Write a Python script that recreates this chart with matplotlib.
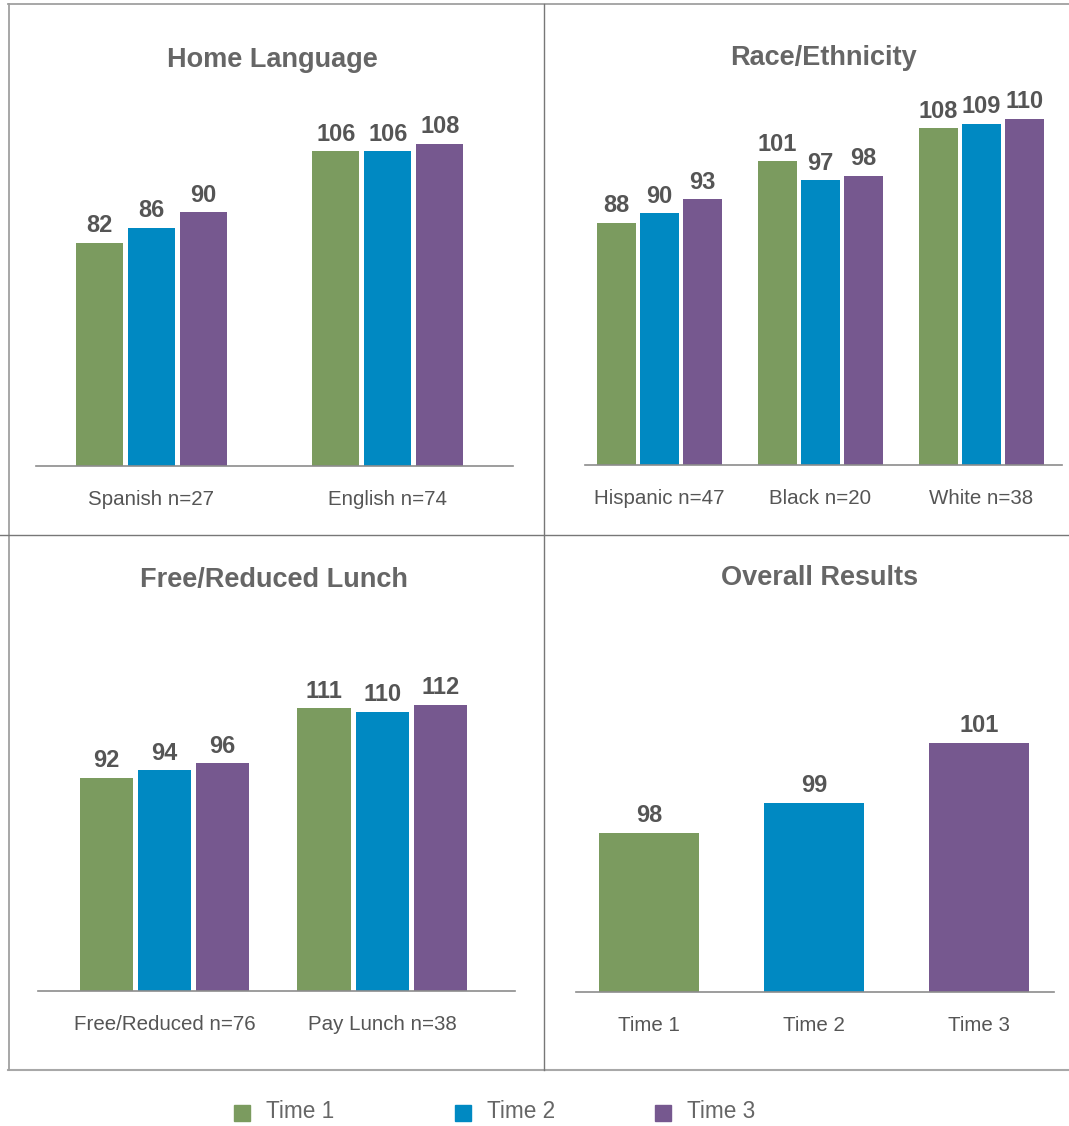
import matplotlib
matplotlib.use("Agg")
import matplotlib.pyplot as plt
from matplotlib.lines import Line2D
from matplotlib.patches import Rectangle

plt.rcParams['font.family'] = ['Liberation Sans', 'DejaVu Sans']

series_names = ["Time 1", "Time 2", "Time 3"]
colors = ["#7b9b5f", "#0089c2", "#76588f"]

home_cats = ["Spanish n=27", "English n=74"]
home_vals = [[82, 106], [86, 106], [90, 108]]

race_cats = ["Hispanic n=47", "Black n=20", "White n=38"]
race_vals = [[88, 101, 108], [90, 97, 109], [93, 98, 110]]

lunch_cats = ["Free/Reduced n=76", "Pay Lunch n=38"]
lunch_vals = [[92, 111], [94, 110], [96, 112]]

overall_cats = ["Time 1", "Time 2", "Time 3"]
overall_vals = [98, 99, 101]

W, H = 1069, 1126
fig = plt.figure(figsize=(W / 100, H / 100), dpi=100)

def ax_at(x0, y0, x1, y1):
    return fig.add_axes([x0 / W, 1 - y1 / H, (x1 - x0) / W, (y1 - y0) / H])

TXT = "#555555"
TITLE = "#666666"
VAL_FS = 17
TICK_FS = 14.8
TITLE_FS = 19.5

def style(ax, title, title_y, panel_x):
    for s in ["top", "right", "left"]:
        ax.spines[s].set_visible(False)
    ax.spines["bottom"].set_color("#8c8c8c")
    ax.spines["bottom"].set_linewidth(1.2)
    ax.set_yticks([])
    ax.tick_params(axis="x", length=0, pad=17, labelsize=TICK_FS, labelcolor=TXT)
    fig.text(panel_x / W, 1 - title_y / H, title, ha="center", va="center",
             fontsize=TITLE_FS, fontweight="bold", color=TITLE)

def label(ax, b, val):
    ax.annotate(str(val), (b.get_x() + b.get_width() / 2, val),
                xytext=(0, 4), textcoords="offset points",
                ha="center", va="bottom", fontsize=VAL_FS,
                fontweight="bold", color=TXT)

def grouped(ax, cats, vals, width, offset):
    n = len(vals)
    for i, v in enumerate(vals):
        xs = [j + (i - (n - 1) / 2) * offset for j in range(len(cats))]
        bars = ax.bar(xs, v, width=width, color=colors[i])
        for b, val in zip(bars, v):
            label(ax, b, val)
    ax.set_xticks(range(len(cats)))
    ax.set_xticklabels(cats)

# Panel 1
ax1 = ax_at(36, 100, 513, 466)
grouped(ax1, home_cats, home_vals, 0.199, 0.22)
ax1.set_xlim(-0.488, 1.529)
ax1.set_ylim(23.5, 119.5)
style(ax1, "Home Language", 60, 272)

# Panel 2
ax2 = ax_at(585, 100, 1062, 465)
grouped(ax2, race_cats, race_vals, 0.242, 0.267)
ax2.set_xlim(-0.463, 2.5)
ax2.set_ylim(36.8, 114.0)
style(ax2, "Race/Ethnicity", 58, 824)

# Panel 3
ax3 = ax_at(38, 620, 515, 991)
grouped(ax3, lunch_cats, lunch_vals, 0.244, 0.267)
ax3.set_xlim(-0.582, 1.611)
ax3.set_ylim(33.6, 135.2)
style(ax3, "Free/Reduced Lunch", 580, 274)

# Panel 4
ax4 = ax_at(576, 620, 1054, 992)
bars = ax4.bar(range(3), overall_vals, width=0.606, color=colors)
for b, val in zip(bars, overall_vals):
    label(ax4, b, val)
ax4.set_xticks(range(3))
ax4.set_xticklabels(overall_cats)
ax4.set_xlim(-0.442, 2.455)
ax4.set_ylim(92.7, 105.1)
style(ax4, "Overall Results", 578, 820)

# Borders
def hline(y, x0, x1, c, lw):
    fig.add_artist(Line2D([x0 / W, x1 / W], [1 - y / H, 1 - y / H], color=c, lw=lw))

def vline(x, y0, y1, c, lw):
    fig.add_artist(Line2D([x / W, x / W], [1 - y0 / H, 1 - y1 / H], color=c, lw=lw))

hline(3.5, 8, W, "#a0a0a0", 1.3)
hline(1069.5, 8, W, "#a8a8a8", 1.5)
vline(8.5, 3.5, 1069.5, "#a0a0a0", 1.3)
vline(544, 3.5, 1069.5, "#777777", 1.0)
hline(535, 0, W, "#777777", 1.0)

# Legend
leg_sq = [234, 455, 655]
leg_tx = [266, 487, 687]
for i, name in enumerate(series_names):
    fig.add_artist(Rectangle((leg_sq[i] / W, 1 - 1121 / H), 16 / W, 16 / H,
                             transform=fig.transFigure, color=colors[i]))
    fig.text(leg_tx[i] / W, 1 - 1112 / H, name, ha="left", va="center",
             fontsize=16.3, color="#666666")

fig.savefig("out.png", dpi=100, facecolor="white")
